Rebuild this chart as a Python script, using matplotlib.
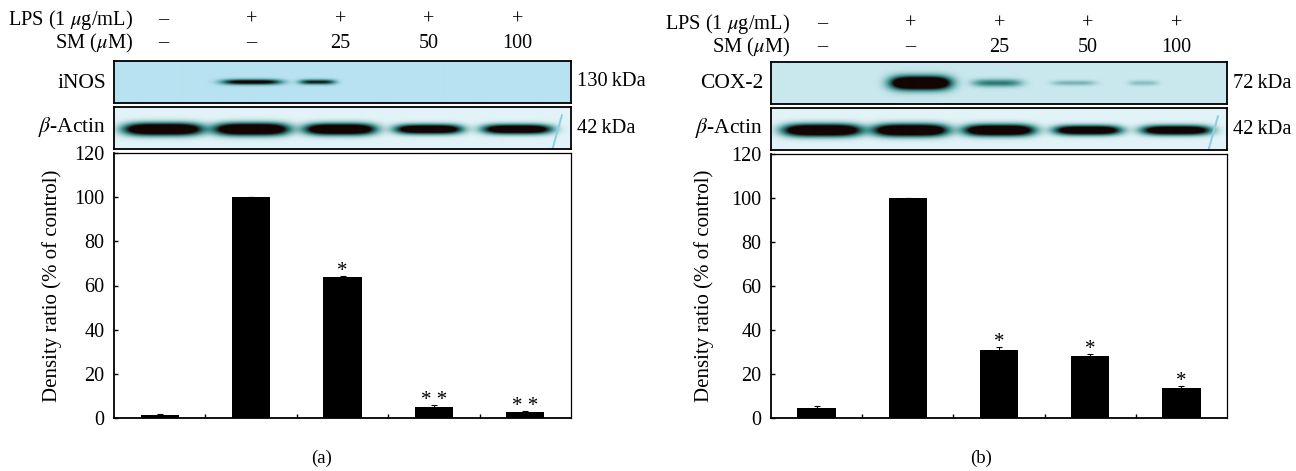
import numpy as np
import matplotlib
matplotlib.use('Agg')
import matplotlib.pyplot as plt
from matplotlib.colors import LinearSegmentedColormap

plt.rcParams['font.family'] = ['Liberation Serif', 'DejaVu Serif']
plt.rcParams['mathtext.fontset'] = 'stix'

lps_labels = ['\u2013', '+', '+', '+', '+']
sm_labels = ['\u2013', '\u2013', '25', '50', '100']
y_ticks = [0, 20, 40, 60, 80, 100, 120]

values_a = [1.2, 100, 64, 5.2, 2.5]
errors_a = [0.8, 0.1, 0.5, 0.8, 0.8]
stars_a = ['', '', '*', '**', '**']

values_b = [4.5, 100, 31, 28, 13.5]
errors_b = [0.8, 0.2, 1.5, 1.2, 1.2]
stars_b = ['', '', '*', '*', '*']

# band strength, half width and half height (in lanes / blot heights) for each blot
inos_strength = [0, 1.15, 0.95, 0, 0]
inos_width = [0.3, 0.33, 0.2, 0.3, 0.3]
inos_height = [0.1, 0.065, 0.06, 0.1, 0.1]
inos_shift = [0, 0, -0.25, 0, 0]
cox_strength = [0, 1.9, 0.6, 0.3, 0.24]
cox_width = [0.3, 0.33, 0.27, 0.24, 0.16]
cox_height = [0.1, 0.16, 0.09, 0.06, 0.06]
cox_shift = [0, 0.11, -0.02, -0.15, -0.36]
actin_strength = [1.8, 1.8, 1.75, 1.6, 1.6]
actin_width = [0.42, 0.4, 0.38, 0.36, 0.37]
actin_height = [0.14, 0.14, 0.13, 0.11, 0.11]
actin_shift = [0, 0, 0, 0, 0]

W, H = 1296, 471
fig = plt.figure(figsize=(W / 100, H / 100), dpi=100)


def make_ax(x0, y0, x1, y1):
    return fig.add_axes([x0 / W, 1 - y1 / H, (x1 - x0) / W, (y1 - y0) / H])


def draw_blot(ax, lanes, strength, width, height, shift, cy, bg):
    xs = np.linspace(-0.5, 4.5, 900)
    ys = np.linspace(0, 1, 84)
    xx, yy = np.meshgrid(xs, ys)
    img = np.zeros_like(xx)
    for i in range(5):
        if strength[i] > 0:
            img += strength[i] * np.exp(-((xx - lanes[i] - shift[i]) / width[i]) ** 4 - ((yy - cy) / height[i]) ** 2)
    cmap = LinearSegmentedColormap.from_list('blot', [bg, '#3c8f8c', '#140505', '#140505'])
    ax.imshow(img, extent=(-0.5, 4.5, 1, 0), aspect='auto', cmap=cmap, vmin=0, vmax=1.5)
    ax.set_xticks([])
    ax.set_yticks([])
    for s in ax.spines.values():
        s.set_linewidth(1.3)


def draw_panel(x0, x1, plot_top, blot1_y, blot2_y, header_y, first_lane, name, kda,
               strength1, width1, height1, shift1, bg1,
               values, errors, stars, panel_label, label_x, ylabel_pad):
    lane_px = first_lane + 88.6 * np.arange(5)
    lanes = (lane_px - x0) / ((x1 - x0) / 5) - 0.5

    ax1 = make_ax(x0, blot1_y, x1, blot1_y + 42)
    draw_blot(ax1, lanes, strength1, width1, height1, shift1, 0.5, bg1)
    ax2 = make_ax(x0, blot2_y, x1, blot2_y + 42)
    draw_blot(ax2, lanes, actin_strength, actin_width, actin_height, actin_shift, 0.53, '#e2f3f8')
    # scratch at the right end of the actin blot
    ax2.plot([0.98, 0.96], [0.8, 0.02], transform=ax2.transAxes, color='#8fd0e2', lw=1.5)

    ax = make_ax(x0, plot_top, x1, 418)
    pos = np.arange(5)
    ax.bar(pos, values, width=0.42, color='black', yerr=errors, ecolor='black',
           error_kw=dict(elinewidth=0.8, capsize=2, capthick=0.8))
    ax.set_xlim(-0.5, 4.5)
    ax.set_ylim(0, 120)
    ax.set_yticks(y_ticks)
    ax.set_xticks(pos[:-1] + 0.5)
    ax.set_xticklabels([])
    ax.tick_params(axis='y', direction='in', length=3, width=1, labelsize=14.5, pad=7)
    ax.tick_params(axis='x', direction='in', length=3, width=1)
    ax.set_ylabel('Density ratio (% of control)', fontsize=15, labelpad=ylabel_pad)
    for s in ['left', 'bottom']:
        ax.spines[s].set_linewidth(1.3)
    for s in ['top', 'right']:
        ax.spines[s].set_linewidth(0.9)
    for i in pos:
        if stars[i]:
            ax.annotate(' '.join(stars[i]), (i, values[i] + errors[i]), xytext=(0, -4),
                        textcoords='offset points', ha='center', va='bottom', fontsize=15)

    # treatment rows and blot labels
    for i in range(5):
        cx = lane_px[i] / W
        fig.text(cx, 1 - (header_y + 1) / H, lps_labels[i], ha='center', va='center', fontsize=14.5)
        fig.text(cx, 1 - (header_y + 24) / H, sm_labels[i], ha='center', va='center', fontsize=14.5)
    rx = (x0 + 19) / W
    fig.text(rx, 1 - (header_y + 1) / H, r'LPS (1 $\mu$g/mL)', ha='right', va='center', fontsize=14.7)
    fig.text(rx, 1 - (header_y + 24) / H, r'SM ($\mu$M)', ha='right', va='center', fontsize=14.7)
    lx = (x0 - 8) / W
    fig.text(lx, 1 - (blot1_y + 22) / H, name, ha='right', va='center', fontsize=15.5)
    fig.text(lx, 1 - (blot2_y + 20) / H, r'$\beta$-Actin', ha='right', va='center', fontsize=15.5)
    fig.text((x1 + 6) / W, 1 - (blot1_y + 21) / H, kda, ha='left', va='center', fontsize=14.7)
    fig.text((x1 + 6) / W, 1 - (blot2_y + 22) / H, '42\u2009kDa', ha='left', va='center', fontsize=14.7)
    fig.text(label_x / W, 1 - 458 / H, panel_label, ha='center', va='center', fontsize=13.5)


draw_panel(114, 571, 153, 61, 107, 19, 163, 'iNOS', '130\u2009kDa',
           inos_strength, inos_width, inos_height, inos_shift, '#b8e2f1',
           values_a, errors_a, stars_a, '(a)', 322, 9)
draw_panel(771, 1227, 154, 62, 108, 23, 822, 'COX-2', '72\u2009kDa',
           cox_strength, cox_width, cox_height, cox_shift, '#c9e8ee',
           values_b, errors_b, stars_b, '(b)', 981, 12)

plt.savefig('out.png', dpi=100)
